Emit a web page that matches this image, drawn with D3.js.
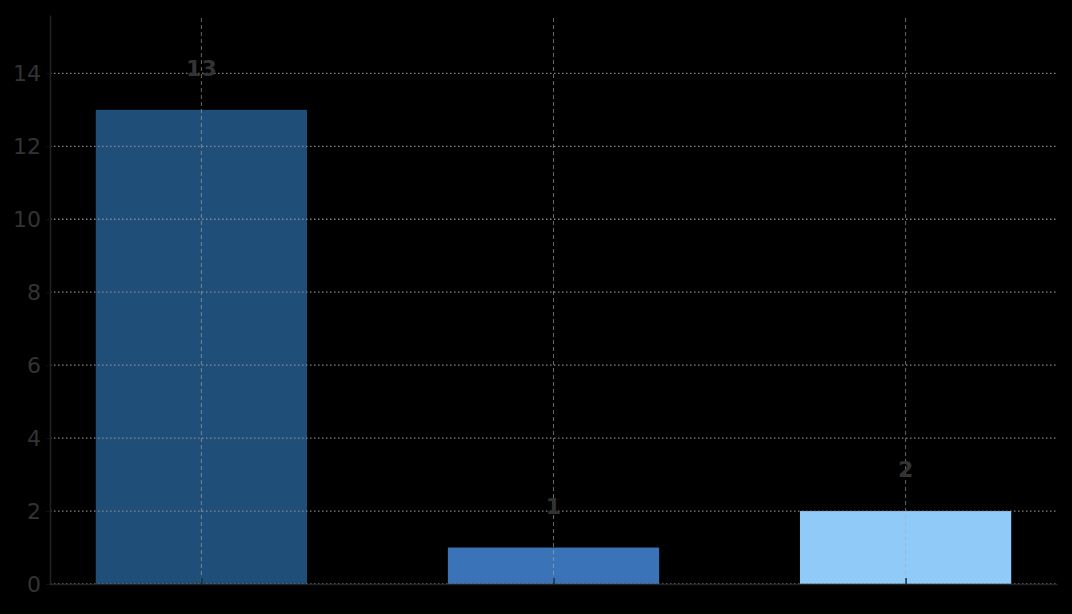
<!DOCTYPE html>
<html><head><meta charset="utf-8">
<script src="https://cdn.jsdelivr.net/npm/d3@7"></script>
<style>html,body{margin:0;padding:0;background:#000;}svg{display:block;}</style>
</head><body>
<svg id="chart" width="1072" height="614"></svg>
<script>
const categories = ["A", "B", "C"];
const values = [13, 1, 2];
const colors = ["#1f4e79", "#3b73b9", "#90caf9"];
const yTicks = [0, 2, 4, 6, 8, 10, 12, 14];

const svg = d3.select("#chart");
const W = 1072, H = 614;
const m = {left: 50, right: 15, top: 15, bottom: 30};
svg.append("rect").attr("width", W).attr("height", H).attr("fill", "#000");

const x = d3.scaleLinear().domain([-0.43, categories.length - 1 + 0.43]).range([m.left, W - m.right]);
const y = d3.scaleLinear().domain([0, d3.max(values) * 1.2]).range([H - m.bottom, m.top]);
const barW = x(0.6) - x(0);

const g = svg.append("g");

// bars
g.selectAll("rect.bar").data(values).enter().append("rect")
  .attr("class", "bar")
  .attr("x", (d, i) => x(i) - barW / 2)
  .attr("width", barW)
  .attr("y", d => y(d))
  .attr("height", d => y(0) - y(d))
  .attr("fill", (d, i) => colors[i]);

// horizontal grid
g.selectAll("line.hg").data(yTicks).enter().append("line")
  .attr("x1", m.left).attr("x2", W - m.right)
  .attr("y1", d => y(d)).attr("y2", d => y(d))
  .attr("stroke", "#999").attr("stroke-width", 1.3)
  .attr("stroke-dasharray", "1.5,2.5").attr("opacity", 0.85);

// vertical grid
g.selectAll("line.vg").data(categories).enter().append("line")
  .attr("x1", (d, i) => x(i)).attr("x2", (d, i) => x(i))
  .attr("y1", m.top + 3).attr("y2", y(0))
  .attr("stroke", "#aaaaaa").attr("stroke-width", 1)
  .attr("stroke-dasharray", "4,3").attr("opacity", 0.6);

// x axis
const xAxis = d3.axisBottom(x).tickValues(d3.range(categories.length)).tickFormat("").tickSizeInner(-6).tickSizeOuter(0);
const xa = svg.append("g").attr("transform", `translate(0,${y(0)})`).call(xAxis);
xa.select(".domain").attr("stroke", "#222").attr("stroke-width", 1.5);
xa.selectAll(".tick line").attr("stroke", "#1a2a3a").attr("stroke-width", 1.5);

// y axis
const yAxis = d3.axisLeft(y).tickValues(yTicks).tickSizeInner(4).tickSizeOuter(0).tickPadding(5);
const ya = svg.append("g").attr("transform", `translate(${m.left},0)`).call(yAxis);
ya.select(".domain").attr("stroke", "#222").attr("stroke-width", 1.5);
ya.selectAll(".tick line").attr("stroke", "#111");
ya.selectAll(".tick text").attr("fill", "#333").attr("font-size", 22)
  .attr("font-family", "DejaVu Sans");

// value labels
g.selectAll("text.val").data(values).enter().append("text")
  .attr("x", (d, i) => x(i))
  .attr("y", d => y(d + 0.93))
  .attr("text-anchor", "middle")
  .attr("fill", "#333").attr("font-weight", "bold")
  .attr("font-size", 22).attr("font-family", "DejaVu Sans")
  .text(d => d);
</script>
</body></html>
